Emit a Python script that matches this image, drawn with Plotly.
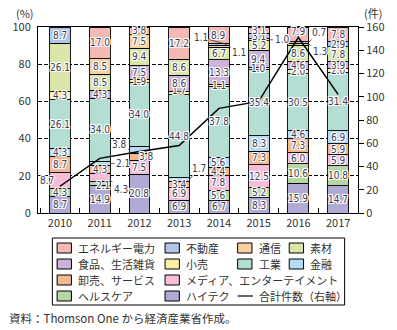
import plotly.graph_objects as go

# ---------------- data ----------------
years = ["2010", "2011", "2012", "2013", "2014", "2015", "2016", "2017"]

# shares (%) by sector, None = no deal in that year
energy      = [None, 17.0, 3.8, 17.2, 8.9, 3.1, 7.9, 7.8]
real_estate = [8.7, None, None, None, 1.1, 3.1, 0.7, 2.9]
telecom     = [None, 8.5, 7.5, None, 1.1, 1.0, 1.3, None]
materials   = [26.1, 8.5, 9.4, 8.6, 6.7, 5.2, 8.6, 7.8]
food        = [None, 4.3, 7.5, 8.6, 13.3, 9.4, 4.6, 3.9]
retail      = [4.3, None, 1.9, 1.7, 1.1, 1.0, 2.0, 2.0]
industry    = [26.1, 34.0, 34.0, 44.8, 37.8, 35.4, 30.5, 31.4]
finance     = [4.3, 2.1, 3.8, 1.7, 5.6, 8.3, 4.6, 6.9]
wholesale   = [8.7, 4.3, 3.8, 3.4, 4.4, 7.3, 7.3, 5.9]
media       = [8.7, 4.3, 7.5, 6.9, 7.8, 12.5, 6.0, 5.9]
health      = [4.3, 2.1, None, None, 5.6, 5.2, 10.6, 10.8]
hitech      = [8.7, 14.9, 20.8, 6.9, 6.7, 8.3, 15.9, 14.7]

total_deals = [23, 47, 53, 58, 90, 96, 151, 102]

sector_names = {
    "energy": "エネルギー電力", "real_estate": "不動産", "telecom": "通信", "materials": "素材",
    "food": "食品、生活雑貨", "retail": "小売", "industry": "工業", "finance": "金融",
    "wholesale": "卸売、サービス", "media": "メディア、エンターテイメント",
    "health": "ヘルスケア", "hitech": "ハイテク",
}
line_name = "合計件数（右軸）"
source_text = "資料：Thomson One から経済産業省作成。"

# ---------------- styles ----------------
colors = {
    "energy": "#f2b9b5", "real_estate": "#afc4e6", "telecom": "#f9d1a0", "materials": "#d9e6a7",
    "food": "#cdb2d9", "retail": "#fdeea8", "industry": "#b4ddd3", "finance": "#b5dcf4",
    "wholesale": "#f4b891", "media": "#f5bdd7", "health": "#b6d8a5", "hitech": "#afabd5",
}
series = {
    "energy": energy, "real_estate": real_estate, "telecom": telecom, "materials": materials,
    "food": food, "retail": retail, "industry": industry, "finance": finance,
    "wholesale": wholesale, "media": media, "health": health, "hitech": hitech,
}
stack_order = ["hitech", "health", "media", "wholesale", "finance", "industry",
               "retail", "food", "materials", "telecom", "real_estate", "energy"]

JP = "Noto Sans CJK JP"
LABEL_FONT = "Liberation Sans Narrow, DejaVu Sans Condensed, Roboto Condensed, Roboto"
HALO = "1px 0 0 #fff, -1px 0 0 #fff, 0 1px 0 #fff, 0 -1px 0 #fff, 1px 1px 0 #fff, -1px -1px 0 #fff, 1px -1px 0 #fff, -1px 1px 0 #fff"

W, H = 397, 330
PL, PR, PT, PB = 33, 368, 27, 213
BAR_W = 0.525

def px_x(px):
    return (px - PL) / (PR - PL)

def px_y(py):
    return (PB - py) / (PB - PT)

# label tweaks: shift (dx, dy) in px, or leader (side offset in category units, ax, ay)
shifts = {
    (0, "media"): (-13, 0), (1, "health"): (3, -2), (2, "wholesale"): (7, 0),
    (3, "retail"): (0, 2), (6, "energy"): (0, 3),
}
leaders = {
    (1, "media"): (0.26, 11, 9, -1.5),
    (1, "finance"): (0.26, 13, 0, 0),
    (2, "finance"): (-0.26, -10, -5, 0),
    (3, "finance"): (0.26, 9, -11, 0),
    (4, "telecom"): (0.26, 10, 6, 0),
    (4, "real_estate"): (0.2, -26, -7, 0),
    (5, "telecom"): (0.26, 13, 0, 0),
    (6, "real_estate"): (0.26, 10, -10, 0),
    (6, "telecom"): (0.26, 11, 7, 0),
}

fig = go.Figure()
for key in stack_order:
    fig.add_trace(go.Bar(
        x=years, y=series[key], name=sector_names[key], width=BAR_W,
        marker=dict(color=colors[key], line=dict(color="#000", width=0.9)),
        showlegend=False, hoverinfo="skip",
    ))

fig.add_trace(go.Scatter(
    x=years, y=total_deals, yaxis="y2", mode="lines", name=line_name,
    line=dict(color="#000", width=1.5), showlegend=False,
))

annotations = []
label_font = dict(family=LABEL_FONT, size=10, color="#3c3c52", shadow=HALO)
for i, yr in enumerate(years):
    cum = 0.0
    for key in stack_order:
        v = series[key][i]
        if v is None:
            continue
        mid = cum + v / 2
        cum += v
        txt = f"{v:.1f}"
        if (i, key) in leaders:
            off, ax, ay, dyv = leaders[(i, key)]
            annotations.append(dict(
                x=i + off, y=mid + dyv, xref="x", yref="y", text=txt, showarrow=True,
                arrowhead=0, arrowwidth=0.8, arrowcolor="#333", ax=ax, ay=ay,
                standoff=0, font=label_font,
            ))
        else:
            dx, dy = shifts.get((i, key), (0, 0))
            annotations.append(dict(
                x=i, y=mid, xref="x", yref="y", text=txt, showarrow=False,
                xshift=dx, yshift=dy, font=label_font,
            ))

# axis unit labels
annotations.append(dict(x=px_x(8), y=px_y(13), xref="paper", yref="paper", text="(%)",
                        showarrow=False, xanchor="left", yanchor="middle",
                        font=dict(family=JP, size=11, color="#333")))
annotations.append(dict(x=px_x(372), y=px_y(13), xref="paper", yref="paper", text="(件)",
                        showarrow=False, xanchor="left", yanchor="middle",
                        font=dict(family=JP, size=11, color="#333")))

# manual legend
shapes = [dict(type="rect", xref="paper", yref="paper", x0=px_x(48), x1=px_x(354),
               y0=px_y(305), y1=px_y(238), line=dict(color="#000", width=1),
               fillcolor="rgba(0,0,0,0)")]
legend_layout = [
    [("energy", 0), ("real_estate", 1), ("telecom", 2), ("materials", 3)],
    [("food", 0), ("retail", 1), ("industry", 2), ("finance", 3)],
    [("wholesale", 0), ("media", 1)],
    [("health", 0), ("hitech", 1), ("__line__", 2)],
]
col_sw = [53, 166, 242, 296]
row_y = [248, 264, 280, 296]
leg_font = dict(family=JP, size=11, color="#333")
for r, row in enumerate(legend_layout):
    cy = row_y[r]
    for key, c in row:
        x0 = col_sw[c]
        if key == "__line__":
            shapes.append(dict(type="line", xref="paper", yref="paper", x0=px_x(x0), x1=px_x(x0 + 16),
                               y0=px_y(cy), y1=px_y(cy), line=dict(color="#000", width=1.2)))
            label = line_name
        else:
            shapes.append(dict(type="rect", xref="paper", yref="paper", x0=px_x(x0), x1=px_x(x0 + 15),
                               y0=px_y(cy + 5), y1=px_y(cy - 5), fillcolor=colors[key],
                               line=dict(color="#000", width=1)))
            label = sector_names[key]
        annotations.append(dict(x=px_x(x0 + 20), y=px_y(cy), xref="paper", yref="paper",
                                text=label, showarrow=False, xanchor="left", yanchor="middle",
                                font=leg_font))

annotations.append(dict(x=px_x(1), y=px_y(318), xref="paper", yref="paper", text=source_text,
                        showarrow=False, xanchor="left", yanchor="middle",
                        font=dict(family=JP, size=11.5, color="#333")))

fig.update_layout(
    width=W, height=H, margin=dict(l=PL, r=W - PR, t=PT, b=H - PB),
    paper_bgcolor="#fff", plot_bgcolor="#fff", barmode="stack",
    font=dict(family=JP, size=11, color="#333"),
    xaxis=dict(type="category", showline=True, linecolor="#000", linewidth=1, mirror=True,
               ticks="inside", tickson="boundaries", ticklen=5, tickcolor="#000",
               showgrid=False, tickfont=dict(family=JP, size=11, color="#333")),
    yaxis=dict(range=[0, 100], dtick=20, showline=True, linecolor="#000", linewidth=1, mirror=True,
               showgrid=True, gridcolor="#000", gridwidth=1, griddash="4px,2px", zeroline=False,
               ticks="", ticklabelstandoff=4, tickfont=dict(family=JP, size=11, color="#333")),
    yaxis2=dict(range=[0, 160], dtick=20, overlaying="y", side="right", showgrid=False,
                zeroline=False, ticks="outside", ticklen=5, tickcolor="#000", showline=False,
                tickfont=dict(family=JP, size=11, color="#333")),
    annotations=annotations, shapes=shapes,
)

fig.write_html("out.html")
